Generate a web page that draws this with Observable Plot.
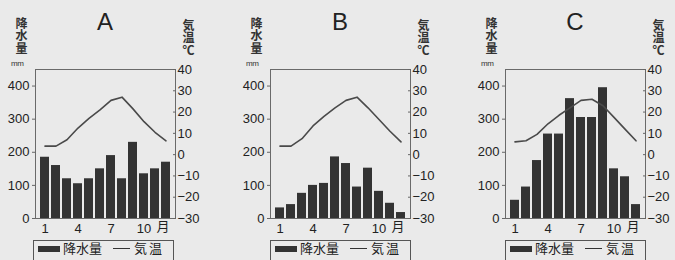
<!DOCTYPE html>
<html><head><meta charset="utf-8">
<script src="https://cdn.jsdelivr.net/npm/d3@7"></script>
<script src="https://cdn.jsdelivr.net/npm/@observablehq/plot@0.6"></script>
<style>
html,body{margin:0;padding:0;background:#eaeaea;}
#wrap{position:relative;width:675px;height:260px;overflow:hidden;display:flex;font-family:"Liberation Sans",Arial,sans-serif;color:#222;}
.panel{position:relative;flex:0 0 235px;width:235px;height:260px;}
.panel svg{display:block;background:transparent;overflow:visible;}
.title{position:absolute;top:8px;left:93px;width:24px;text-align:center;font-size:24px;line-height:28px;color:#222;}
.vt{position:absolute;writing-mode:vertical-rl;text-orientation:upright;font-family:"Noto Sans CJK JP",sans-serif;font-size:12px;line-height:14px;letter-spacing:0.5px;font-weight:bold;color:#333;}
.mm{position:absolute;top:59px;left:11px;font-size:8px;line-height:9px;color:#333;letter-spacing:-0.5px;}
.legend{position:absolute;top:240px;width:141px;height:30px;border:1px solid #555;box-sizing:border-box;font-family:"Noto Sans CJK JP",sans-serif;font-size:13px;color:#222;}
.sw{position:absolute;top:5px;left:4px;width:22px;height:6px;background:#333;}
.ln{position:absolute;top:7px;left:79px;width:17px;height:0;border-top:1.5px solid #333;}
.t1{position:absolute;top:-2px;left:29px;line-height:18px;}
.t2{position:absolute;top:-2px;left:100px;line-height:18px;letter-spacing:2px;}
</style></head>
<body><div id="wrap"></div>
<script>
const months = [1,2,3,4,5,6,7,8,9,10,11,12];
const panelNames = ["A","B","C"];
const precipA = [185,160,120,105,120,150,190,120,230,135,150,170];
const tempA   = [4,4,7,12.5,17,21,25.5,27,21.5,15.5,10.5,6.5];
const precipB = [32,42,76,100,106,186,166,95,152,82,46,18];
const tempB   = [4,4,7.5,13.5,18,22,25.5,27,22,16.5,11,6];
const precipC = [55,95,175,255,255,362,305,305,395,150,126,42];
const tempC   = [6,6.5,9.5,14.5,18.5,22,25.5,26,23,17.5,12,6.5];
const precipTicks = [0,100,200,300,400];
const tempTicks = [-30,-20,-10,0,10,20,30,40];
const monthTicks = [1,4,7,10];
const leftLabel = "降水量";
const rightLabel = "気温℃";
const precipMax = 450, tempMin = -30, tempMax = 40;
const toY = t => (t - tempMin) * precipMax / (tempMax - tempMin);
const fromY = y => Math.round(y * (tempMax - tempMin) / precipMax + tempMin);
const fmt = v => v < 0 ? "\u2212" + Math.abs(v) : String(v);

const series = [[precipA,tempA],[precipB,tempB],[precipC,tempC]];
const wrap = document.getElementById("wrap");

function vtext(panel, text, left, top) {
  const d = document.createElement("div");
  d.className = "vt";
  d.style.left = left + "px";
  d.style.top = top + "px";
  d.textContent = text;
  panel.appendChild(d);
}

series.forEach(([precip,temp],i) => {
  const rows = months.map((m,k) => ({month:m, precip:precip[k], temp:temp[k]}));
  const panel = document.createElement("div");
  panel.className = "panel";
  const chart = Plot.plot({
    width: 235, height: 240,
    marginLeft: 35, marginRight: 60, marginTop: 69, marginBottom: 22,
    style: {background:"transparent", fontFamily:"'Liberation Sans',Arial,sans-serif", fontSize:"13px", color:"#222", overflow:"visible"},
    x: {type:"band", domain: months, paddingInner: 0.16, paddingOuter: 0.04},
    y: {domain:[0, precipMax]},
    marks: [
      Plot.barY(rows, {x:"month", y:"precip", fill:"#333"}),
      Plot.line(rows, {x:"month", y: d => toY(d.temp), stroke:"#4a4a4a", strokeWidth:1.6}),
      Plot.frame({stroke:"#6a6a6a", strokeWidth:1}),
      Plot.axisY(precipTicks, {anchor:"left", tickSize:3, tickPadding:3, label:null, fontSize:13, stroke:"#666"}),
      Plot.axisY(tempTicks.map(toY), {anchor:"right", tickSize:-3, tickPadding:5, label:null, tickFormat: v => fmt(fromY(v)), fontSize:13, stroke:"#666"}),
      Plot.axisX(monthTicks, {anchor:"bottom", tickSize:0, tickPadding:5, label:null, fontSize:13}),
      Plot.text(["月"], {x: () => 12, frameAnchor:"bottom", dy:12, dx:-3, fontSize:13, fontFamily:"Noto Sans CJK JP", fill:"#222"})
    ]
  });
  panel.appendChild(chart);
  const title = document.createElement("div");
  title.className = "title"; title.textContent = panelNames[i];
  panel.appendChild(title);
  vtext(panel, leftLabel, 14, 17);
  const mm = document.createElement("div");
  mm.className = "mm"; mm.textContent = "mm";
  panel.appendChild(mm);
  vtext(panel, rightLabel, 181, 19);
  const lg = document.createElement("div");
  lg.className = "legend"; lg.style.left = (i === 0 ? 33 : 35) + "px";
  lg.innerHTML = "<div class='sw'></div><span class='t1'>降水量</span><div class='ln'></div><span class='t2'>気温</span>";
  panel.appendChild(lg);
  wrap.appendChild(panel);
});
</script></body></html>
